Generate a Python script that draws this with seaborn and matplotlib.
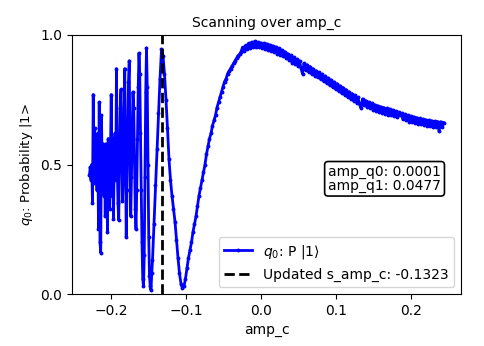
import numpy as np
import pandas as pd
import matplotlib
matplotlib.use("Agg")
import matplotlib.pyplot as plt
import seaborn as sns

# ---- data ----
amp_left = [round(-0.229 + 0.001 * i, 4) for i in range(84)]  # -0.229 .. -0.146
p_left = [0.46, 0.49, 0.44, 0.50, 0.35, 0.77, 0.43, 0.64, 0.47, 0.56,
          0.40, 0.62, 0.25, 0.74, 0.20, 0.16, 0.69, 0.45, 0.58, 0.38,
          0.57, 0.30, 0.58, 0.46, 0.24, 0.60, 0.42, 0.33, 0.55, 0.77,
          0.38, 0.60, 0.29, 0.52, 0.62, 0.44, 0.87, 0.50, 0.35, 0.285,
          0.55, 0.72, 0.79, 0.55, 0.36, 0.45, 0.68, 0.87, 0.52, 0.22,
          0.40, 0.62, 0.82, 0.90, 0.55, 0.30, 0.45, 0.62, 0.78, 0.72,
          0.52, 0.33, 0.25, 0.40, 0.60, 0.80, 0.93, 0.85, 0.62, 0.40,
          0.20, 0.06, 0.03, 0.15, 0.45, 0.78, 0.95, 0.80, 0.50, 0.22,
          0.07, 0.03, 0.015, 0.08]

amp_right = [round(-0.145 + 0.002 * i, 4) for i in range(195)]  # -0.145 .. 0.243
p_right = [0.13, 0.27, 0.42, 0.56, 0.70, 0.83, 0.945, 0.92, 0.85, 0.75,
           0.64, 0.52, 0.44, 0.38, 0.33, 0.28, 0.21, 0.14, 0.08, 0.04,
           0.022, 0.03, 0.06, 0.10, 0.14, 0.17, 0.20, 0.24, 0.27, 0.30,
           0.34, 0.38, 0.41, 0.44, 0.47, 0.50, 0.54, 0.57, 0.60, 0.62,
           0.65, 0.67, 0.69, 0.72, 0.74, 0.76, 0.78, 0.80, 0.82, 0.83,
           0.85, 0.86, 0.87, 0.88, 0.89, 0.90, 0.91, 0.92, 0.925, 0.935,
           0.952, 0.938, 0.96, 0.944, 0.968, 0.95, 0.972, 0.955, 0.975, 0.955,
           0.972, 0.952, 0.97, 0.95, 0.968, 0.946, 0.966, 0.942, 0.962, 0.938,
           0.958, 0.934, 0.954, 0.928, 0.948, 0.924, 0.942, 0.918, 0.936, 0.912,
           0.928, 0.902, 0.921, 0.893, 0.914, 0.886, 0.906, 0.879, 0.90, 0.872,
           0.85, 0.89, 0.864, 0.885, 0.857, 0.878, 0.85, 0.87, 0.843, 0.862,
           0.836, 0.856, 0.829, 0.849, 0.821, 0.841, 0.814, 0.834, 0.806, 0.827,
           0.799, 0.819, 0.791, 0.812, 0.784, 0.804, 0.776, 0.797, 0.769, 0.789,
           0.761, 0.781, 0.754, 0.774, 0.746, 0.767, 0.739, 0.759, 0.732, 0.718,
           0.753, 0.728, 0.747, 0.722, 0.741, 0.717, 0.736, 0.712, 0.731, 0.707,
           0.727, 0.703, 0.723, 0.699, 0.72, 0.696, 0.717, 0.693, 0.714, 0.69,
           0.71, 0.686, 0.706, 0.682, 0.702, 0.69, 0.698, 0.674, 0.694, 0.67,
           0.69, 0.666, 0.687, 0.663, 0.684, 0.66, 0.681, 0.657, 0.678, 0.655,
           0.675, 0.652, 0.673, 0.65, 0.671, 0.648, 0.669, 0.646, 0.667, 0.645,
           0.666, 0.628, 0.665, 0.643, 0.662]

amp_c = amp_left + amp_right
p1 = p_left + p_right

updated_amp = -0.1323
title = "Scanning over amp_c"
xlabel = "amp_c"
ylabel = "$q_0$: Probability |1>"
series_label = r"$q_0$: P $|1\rangle$"
line_label = "Updated s_amp_c: -0.1323"
box_text = "amp_q0: 0.0001\namp_q1: 0.0477"

df = pd.DataFrame({"amp_c": amp_c, "p": p1})

fig = plt.figure(figsize=(4.85, 3.46), dpi=100)
ax = fig.add_axes([0.148, 0.150, 0.803, 0.749])

sns.lineplot(data=df, x="amp_c", y="p", ax=ax, color="blue", marker="o",
             markersize=2.8, linewidth=2.0, markeredgewidth=0, label=series_label)
ax.axvline(updated_amp, color="black", linestyle="--", linewidth=2, label=line_label)

ax.set_ylim(0, 1)
ax.set_yticks([0.0, 0.5, 1.0])
ax.set_xticks([-0.2, -0.1, 0.0, 0.1, 0.2])
ax.set_title(title, fontsize=10)
ax.set_xlabel(xlabel, fontsize=10)
ax.set_ylabel(ylabel, fontsize=9.5)
ax.tick_params(labelsize=10)

ax.text(0.948, 0.445, box_text, transform=ax.transAxes, ha="right", va="center",
        fontsize=10, linespacing=0.95,
        bbox=dict(boxstyle="round,pad=0.25", facecolor="white", edgecolor="black", linewidth=1.2))

ax.legend(loc="lower right", fontsize=10)

fig.savefig("out.png", dpi=100)
